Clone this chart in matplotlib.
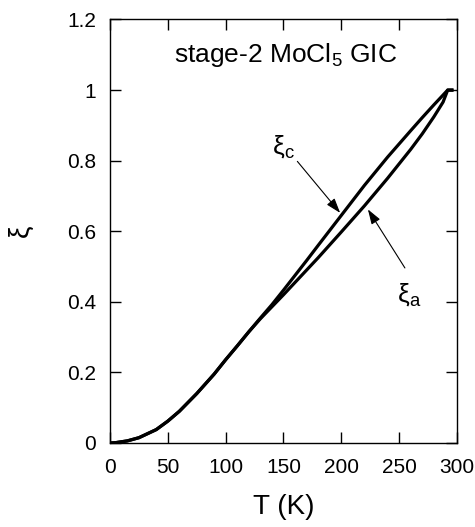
import numpy as np
import matplotlib
matplotlib.use('Agg')
import matplotlib.pyplot as plt
from matplotlib.ticker import FuncFormatter

plt.rcParams['font.family'] = ['Liberation Sans', 'DejaVu Sans']

# valores
temp_c = [0, 5, 15, 25, 40, 50, 60, 75, 90, 100, 110, 120, 130, 140, 150, 160, 170, 180,
          200, 220, 240, 260, 270, 280, 292, 297]
xi_c = [0, 0.001, 0.006, 0.015, 0.038, 0.062, 0.09, 0.14, 0.195, 0.236, 0.275, 0.315,
        0.354, 0.392, 0.433, 0.475, 0.517, 0.56, 0.645, 0.73, 0.81, 0.885, 0.922, 0.958, 1.0, 1.0]

temp_a = [0, 5, 15, 25, 40, 50, 60, 75, 90, 100, 110, 120, 130, 140, 150, 160, 170, 180,
          200, 220, 240, 260, 270, 280, 288, 292, 297]
xi_a = [0, 0.001, 0.006, 0.015, 0.038, 0.062, 0.09, 0.14, 0.195, 0.236, 0.275, 0.315,
        0.352, 0.386, 0.42, 0.455, 0.49, 0.525, 0.598, 0.672, 0.75, 0.832, 0.876, 0.924, 0.966, 1.0, 1.0]

x_ticks = [0, 50, 100, 150, 200, 250, 300]
y_ticks = [0, 0.2, 0.4, 0.6, 0.8, 1.0, 1.2]

fig = plt.figure(figsize=(4.75, 5.27), dpi=100)
ax = fig.add_axes([0.2316, 0.1594, 0.7304, 0.8036])

ax.plot(temp_c, xi_c, color='black', lw=2.3, solid_capstyle='butt', solid_joinstyle='round')
ax.plot(temp_a, xi_a, color='black', lw=2.3, solid_capstyle='butt', solid_joinstyle='round')

ax.set_xlim(0, 300)
ax.set_ylim(0, 1.2)
ax.set_xticks(x_ticks)
ax.set_yticks(y_ticks)
ax.yaxis.set_major_formatter(FuncFormatter(lambda v, p: f'{v:g}'))
ax.tick_params(direction='in', length=8, width=1, top=True, right=True, labelsize=15)
ax.tick_params(axis='x', pad=11)
ax.tick_params(axis='y', pad=10)
for s in ax.spines.values():
    s.set_linewidth(1)

ax.set_xlabel('T (K)', fontsize=20, labelpad=12)
ax.set_ylabel('ξ', fontsize=20, labelpad=24)

ax.text(152, 1.10, 'stage-2 MoCl$_\\mathregular{5}$ GIC', fontsize=19, ha='center', va='center')

# setas
arrow = dict(arrowstyle='-|>,head_length=0.9,head_width=0.3', color='black', lw=0.8,
             shrinkA=0, shrinkB=0)
ax.annotate('', xy=(199, 0.652), xytext=(162, 0.798), arrowprops=arrow)
ax.annotate('', xy=(223, 0.662), xytext=(255, 0.496), arrowprops=arrow)
ax.text(150, 0.84, 'ξ$_\\mathregular{c}$', fontsize=19, ha='center', va='center')
ax.text(259, 0.42, 'ξ$_\\mathregular{a}$', fontsize=19, ha='center', va='center')

plt.savefig('out.png', dpi=100)
